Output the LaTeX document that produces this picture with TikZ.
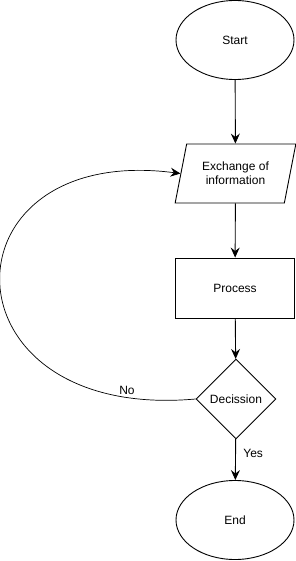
\documentclass[tikz,border=0pt]{standalone}
\usepackage{fontspec}
\setmainfont{Liberation Sans}
\usetikzlibrary{shapes.geometric, arrows.meta}

\begin{document}
\begin{tikzpicture}[x=1pt,y=-1pt,line width=0.9pt,
  every node/.style={font=\fontsize{12}{14}\selectfont},
  terminal/.style={draw,ellipse,minimum width=118pt,minimum height=79pt,inner sep=0pt},
  iobox/.style={draw,trapezium,trapezium left angle=71,trapezium right angle=109,
    trapezium stretches=true,minimum width=121pt,minimum height=59pt,inner sep=0pt,align=center},
  procbox/.style={draw,rectangle,minimum width=119pt,minimum height=60pt,inner sep=0pt},
  decbox/.style={draw,diamond,aspect=1,minimum size=80pt,inner sep=0pt},
  flow/.style={-{Stealth[length=10pt,width=9pt,inset=3.5pt]}}]
\useasboundingbox (0,0) rectangle (296,561);
% main column
\node[terminal] (start) at (235,40) {Start};
\node[iobox] (info) at (235.5,173.5) {Exchange of\\information};
\node[procbox] (proc) at (235,288) {Process};
\node[decbox] (dec) at (236,399) {Decission};
\node[terminal] (end) at (235,520) {End};
% connectors
\draw[flow] (start) -- (info);
\draw[flow] (info) -- (proc);
\draw[flow] (proc) -- (dec);
\draw[flow] (dec) -- (end) node[right,pos=0.3,xshift=4pt,yshift=-2pt] (yes) {Yes};
% loop back when the decision fails
\draw[flow,line width=0.7pt] (dec.west) .. controls (-62,422) and (-62,142) .. (info.west);
\node (no) at (127,390) {No};
\end{tikzpicture}
\end{document}
